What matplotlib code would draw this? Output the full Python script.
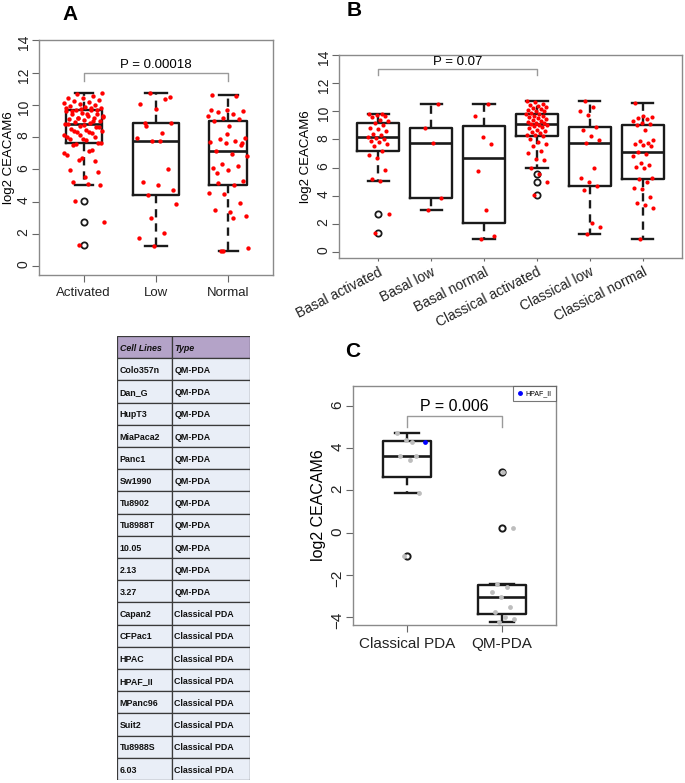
import numpy as np
import matplotlib
matplotlib.use("Agg")
import matplotlib.pyplot as plt
from matplotlib.patches import Rectangle
from matplotlib.lines import Line2D

plt.rcParams['font.family'] = ['Liberation Sans', 'DejaVu Sans']

# panel B groups (panel A pools them by CEACAM6 level)
basal_activated = [1.3, 2.7, 5.07, 5.2, 5.8, 6.7, 6.9, 7.2, 7.55, 7.65, 7.8, 7.9, 8.0, 8.1, 8.15,
                   8.3, 8.4, 8.6, 8.75, 8.8, 9.0, 9.15, 9.3, 9.4, 9.6, 9.65, 9.72, 9.78, 9.82]
basal_low = [2.95, 3.85, 7.75, 8.85, 10.5]
basal_normal = [0.9, 1.1, 2.95, 5.75, 7.65, 8.2, 9.7, 10.55]
classical_activated = [4.05, 5.0, 5.55, 5.98, 6.5, 6.6, 7.0, 7.15, 7.5, 7.65, 7.85, 8.0, 8.23,
                       8.3, 8.35, 8.45, 8.5, 8.6, 8.7, 8.8, 8.9, 8.95, 9.0, 9.05, 9.12,
                       9.15, 9.2, 9.25, 9.3, 9.4, 9.45, 9.5, 9.6, 9.65, 9.7, 9.8, 9.85,
                       9.9, 10.0, 10.05, 10.1, 10.2, 10.25, 10.3, 10.4, 10.45, 10.55, 10.65, 10.75]
classical_low = [1.26, 1.73, 2.04, 4.41, 4.71, 5.0, 5.24, 5.99, 7.77, 7.96, 8.24, 8.69,
                 8.86, 9.74, 10.02, 10.33, 10.73]
classical_normal = [0.93, 3.1, 3.35, 3.45, 3.9, 4.45, 4.55, 5.0, 5.15, 5.25, 5.95, 6.05, 6.2,
                    6.3, 6.8, 6.95, 7.12, 7.5, 7.6, 7.7, 7.75, 7.9, 7.95, 8.7, 9.02,
                    9.1, 9.2, 9.3, 9.45, 9.55, 9.6, 9.7, 10.6]

groups_b = ['Basal activated', 'Basal low', 'Basal normal',
            'Classical activated', 'Classical low', 'Classical normal']
data_b = [basal_activated, basal_low, basal_normal,
          classical_activated, classical_low, classical_normal]

groups_a = ['Activated', 'Low', 'Normal']
data_a = [basal_activated + classical_activated,
          basal_low + classical_low,
          basal_normal + classical_normal]

# panel C: cell lines
groups_c = ['Classical PDA', 'QM-PDA']
classical_pda = [-1.09, 1.86, 3.45, 3.63, 3.63, 4.39, 4.71]
hpaf_ii = 4.31
qm_pda = [-4.25, -4.1, -3.98, -3.75, -3.55, -3.05, -2.82, -2.59, -2.42, 0.23, 2.86]

cell_lines = ['Colo357n', 'Dan_G', 'HupT3', 'MiaPaca2', 'Panc1', 'Sw1990', 'Tu8902', 'Tu8988T',
              '10.05', '2.13', '3.27', 'Capan2', 'CFPac1', 'HPAC', 'HPAF_II', 'MPanc96',
              'Suit2', 'Tu8988S', '6.03']
cell_types = ['QM-PDA'] * 11 + ['Classical PDA'] * 8

W, H = 685, 783


def rect(l, t, r, b):
    return [l / W, (H - b) / H, (r - l) / W, (b - t) / H]


def rstats(v):
    # R boxplot.stats: Tukey hinges, 1.5 IQR whiskers
    v = np.sort(np.asarray(v, float))
    n = len(v)
    q1 = np.median(v[:(n + 1) // 2])
    q3 = np.median(v[n // 2:])
    iqr = q3 - q1
    inside = v[(v >= q1 - 1.5 * iqr) & (v <= q3 + 1.5 * iqr)]
    fl = v[(v < inside.min()) | (v > inside.max())]
    return dict(med=np.median(v), q1=q1, q3=q3, whislo=inside.min(), whishi=inside.max(), fliers=fl)


def jitter(n, amt):
    return ((np.arange(n) * 0.618034 + 0.37) % 1 - 0.5) * 2 * amt


def style_axes(ax):
    for s in ax.spines.values():
        s.set_color('#8a8a8a')
        s.set_linewidth(1.0)
    ax.tick_params(colors='#666666', labelcolor='#222222', length=5, width=0.8)
    ax.tick_params(axis='y', labelrotation=90, pad=1)


def boxes(ax, data, widths, flier_ms=4.5, flier_mew=1.3):
    stats = [rstats(d) for d in data]
    lc = '#1a1a1a'
    ax.bxp(stats, positions=np.arange(1, len(data) + 1), widths=widths,
           boxprops=dict(color=lc, lw=1.7),
           medianprops=dict(color=lc, lw=1.9),
           whiskerprops=dict(color=lc, lw=1.7, ls=(0, (3.5, 2.5))),
           capprops=dict(color=lc, lw=1.7),
           flierprops=dict(marker='o', mfc='none', mec=lc, ms=flier_ms, mew=flier_mew),
           manage_ticks=False)


fig = plt.figure(figsize=(W / 100, H / 100), dpi=100)

# ---- A
ax = fig.add_axes(rect(39, 40, 273, 275))
boxes(ax, data_a, [0.5, 0.63, 0.52])
for i, d in enumerate(data_a):
    ax.scatter(i + 1 + jitter(len(d), 0.28), d, s=10, color='#ff0000', lw=0, zorder=3)
ax.set_xlim(0.38, 3.62)
ax.set_ylim(-0.56, 14.02)
ax.set_yticks(range(0, 15, 2))
ax.set_xticks([1, 2, 3], groups_a, fontsize=9.5)
ax.tick_params(axis='y', labelsize=10)
style_axes(ax)
ax.set_ylabel('log2 CEACAM6', fontsize=9.5, labelpad=1)
ax.plot([1, 1, 3, 3], [11.5, 11.98, 11.98, 11.5], color='#9a9a9a', lw=1)
ax.text(2, 12.1, 'P = 0.00018', ha='center', va='bottom', fontsize=9.5)

# ---- B
ax = fig.add_axes(rect(339, 55, 682, 258))
boxes(ax, data_b, 0.8)
for i, d in enumerate(data_b):
    ax.scatter(i + 1 + jitter(len(d), 0.2), d, s=9, color='#ff0000', lw=0, zorder=3)
ax.set_xlim(0.26, 6.74)
ax.set_ylim(-0.45, 14.02)
ax.set_yticks(range(0, 15, 2))
ax.set_xticks(range(1, 7))
ax.set_xticklabels(groups_b, rotation=27, ha='right', rotation_mode='anchor', fontsize=10)
ax.tick_params(axis='y', labelsize=10)
style_axes(ax)
ax.tick_params(axis='x', length=2, pad=3)
ax.set_ylabel('log2 CEACAM6', fontsize=9.5, labelpad=3)
ax.plot([1, 1, 4, 4], [12.58, 13.0, 13.0, 12.58], color='#9a9a9a', lw=1)
ax.text(2.5, 13.1, 'P = 0.07', ha='center', va='bottom', fontsize=9.5)

# ---- C
ax = fig.add_axes(rect(353, 386, 556, 625))
data_c = [classical_pda + [hpaf_ii], qm_pda]
boxes(ax, data_c, 0.5, flier_ms=4.5, flier_mew=1.4)
for i, d in enumerate(data_c):
    ax.scatter(i + 1 + jitter(len(d), 0.13), d, s=12, color='#bdbdbd', lw=0, zorder=3)
ax.scatter([1.19], [hpaf_ii], s=12, color='#0000ff', lw=0, zorder=4)
ax.set_xlim(0.43, 2.57)
ax.set_ylim(-4.38, 6.95)
ax.set_yticks(range(-4, 7, 2))
ax.set_xticks([1, 2], groups_c, fontsize=11)
ax.tick_params(axis='y', labelsize=11)
style_axes(ax)
ax.set_ylabel('log2 CEACAM6', fontsize=11.5, labelpad=3)
ax.plot([1, 1, 2, 2], [5.02, 5.53, 5.53, 5.02], color='#9a9a9a', lw=1)
ax.text(1.5, 5.62, 'P = 0.006', ha='center', va='bottom', fontsize=11.5)
leg = ax.legend([Line2D([], [], marker='o', ls='', color='#0000ff', ms=2.5)], ['HPAF_II'],
                loc='upper right', fontsize=5, frameon=True, fancybox=False,
                borderaxespad=0, handletextpad=0.3, handlelength=1, borderpad=0.6)
leg.get_frame().set_edgecolor('#555555')
leg.get_frame().set_linewidth(0.8)

# ---- table
tax = fig.add_axes(rect(117, 336, 250, 780))
tax.set_xlim(0, 133)
tax.set_ylim(len(cell_lines) + 1, 0)
tax.axis('off')
col_x = [0, 55, 133]
rows = [('Cell Lines', 'Type')] + list(zip(cell_lines, cell_types))
for r, (a, b) in enumerate(rows):
    fc = '#b4a3c8' if r == 0 else '#e9eef7'
    for c, txt in enumerate((a, b)):
        tax.add_patch(Rectangle((col_x[c], r), col_x[c + 1] - col_x[c], 1, fc=fc,
                                ec='#3a3a3a', lw=0.9))
        tax.text(col_x[c] + 2.5, r + 0.55, txt, ha='left', va='center', fontsize=6.4,
                 weight='bold', style='italic' if r == 0 else 'normal',
                 color='#111111')

# panel letters
for lbl, x, y in [('A', 70, 15), ('B', 354, 11), ('C', 353, 352)]:
    fig.text(x / W, 1 - y / H, lbl, ha='center', va='center', fontsize=15, weight='bold')

fig.savefig('out.png', dpi=100)
